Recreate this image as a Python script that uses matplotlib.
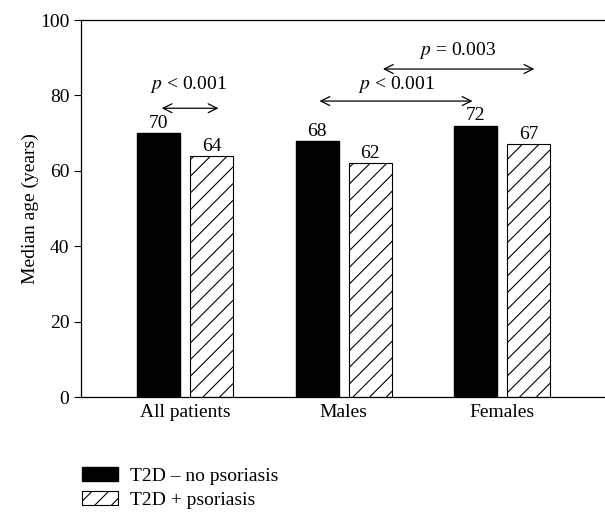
import matplotlib.pyplot as plt
import numpy as np

# data
groups = ['All patients', 'Males', 'Females']
no_psoriasis = [70, 68, 72]
with_psoriasis = [64, 62, 67]
series_names = ['T2D \u2013 no psoriasis', 'T2D + psoriasis']
y_ticks = [0, 20, 40, 60, 80, 100]

plt.rcParams['font.family'] = ['Liberation Serif', 'DejaVu Serif']
plt.rcParams['hatch.linewidth'] = 0.8

fs = 14
fig = plt.figure(figsize=(6.05, 5.12), dpi=100)
ax = fig.add_axes([0.134, 0.2246, 0.866, 0.7363])

x = np.arange(len(groups))
w = 0.27
off = 0.167
b1 = ax.bar(x - off, no_psoriasis, w, color='black', edgecolor='black',
            label=series_names[0])
b2 = ax.bar(x + off, with_psoriasis, w, color='white', edgecolor='black',
            hatch='//', linewidth=0.8, label=series_names[1])

for xi, v in zip(x - off, no_psoriasis):
    ax.text(xi, v + 0.3, str(v), ha='center', va='bottom', fontsize=fs)
for xi, v in zip(x + off, with_psoriasis):
    ax.text(xi, v + 0.3, str(v), ha='center', va='bottom', fontsize=fs)

# p-value arrows
arrows = [(-0.165, 0.228, 76.6, 0.02, 80.0, '$p$ < 0.001'),
          (0.83, 1.83, 78.5, 1.33, 80.0, '$p$ < 0.001'),
          (1.23, 2.22, 87.0, 1.72, 89.0, '$p$ = 0.003')]
for x0, x1, ya, xt, yt, txt in arrows:
    ax.annotate('', xy=(x0, ya), xytext=(x1, ya),
                arrowprops=dict(arrowstyle='<->', color='black', lw=0.9,
                                mutation_scale=16))
    ax.text(xt, yt, txt, ha='center', va='bottom', fontsize=fs,
            math_fontfamily='stix')

ax.set_xlim(-0.656, 2.648)
ax.set_ylim(0, 100)
ax.set_yticks(y_ticks)
ax.set_xticks(x)
ax.set_xticklabels(groups, fontsize=fs)
ax.tick_params(axis='x', length=0, pad=5)
ax.tick_params(axis='y', labelsize=fs, length=5, direction='out')
ax.set_ylabel('Median age (years)', fontsize=fs, labelpad=1)
ax.spines['right'].set_visible(False)
for s in ['left', 'top', 'bottom']:
    ax.spines[s].set_linewidth(0.9)

fig.legend(handles=[b1, b2], loc='upper left', bbox_to_anchor=(0.136, 0.088),
           frameon=False, fontsize=fs, handlelength=1.85, handleheight=0.72,
           labelspacing=0.35, borderpad=0, borderaxespad=0, handletextpad=0.6)

fig.savefig('out.png', dpi=100)
